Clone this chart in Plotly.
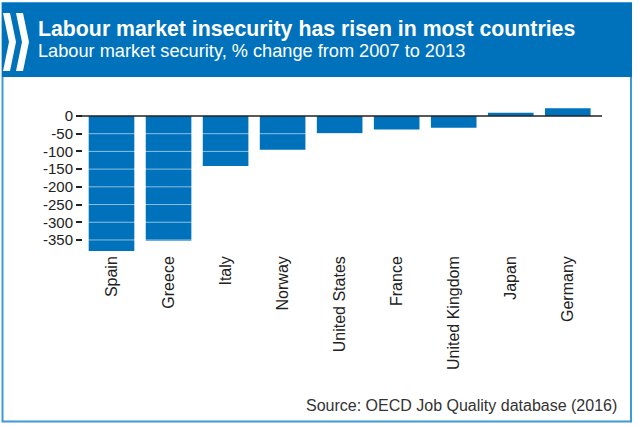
import plotly.graph_objects as go

countries = ["Spain", "Greece", "Italy", "Norway", "United States", "France",
             "United Kingdom", "Japan", "Germany"]
values = [-381, -352, -141, -95, -49, -38, -33, 9, 22]
tick_vals = [0, -50, -100, -150, -200, -250, -300, -350]
tick_text = [str(v) for v in tick_vals]

title = "Labour market insecurity has risen in most countries"
subtitle = "Labour market security, % change from 2007 to 2013"
source = "Source: OECD Job Quality database (2016)"

W, H = 639, 425
L, R, T, B = 83, 602, 102, 252  # plot area in pixels
BLUE = "#0072BC"
FONT = "Liberation Sans, Arial, sans-serif"


def px(x):
    return (x - L) / (R - L)


def py(y):
    return (B - y) / (B - T)


fig = go.Figure(go.Bar(x=countries, y=values, marker=dict(color=BLUE, line=dict(width=0)),
                       width=0.8))

shapes = []
# outer frame
shapes.append(dict(type="rect", xref="paper", yref="paper", x0=px(2.5), x1=px(631), y0=py(3), y1=py(421.5),
                   line=dict(color="#3D9AD6", width=2), fillcolor="rgba(0,0,0,0)", layer="below"))
# header band
shapes.append(dict(type="rect", xref="paper", yref="paper", x0=px(2), x1=px(632), y0=py(3), y1=py(77),
                   line=dict(width=0), fillcolor=BLUE, layer="below"))


def chevron(x0):
    pts = [(x0, 13), (x0 + 7, 13), (x0 + 13, 42), (x0 + 7, 71), (x0, 71), (x0 + 6, 42)]
    d = "M " + " L ".join(f"{px(a):.5f},{py(b):.5f}" for a, b in pts) + " Z"
    return dict(type="path", xref="paper", yref="paper", path=d, fillcolor="white",
                line=dict(width=0), layer="above")


shapes.append(chevron(3))
shapes.append(chevron(16))
# white grid lines over bars
for v in tick_vals[1:]:
    shapes.append(dict(type="line", xref="paper", yref="y", x0=0, x1=1, y0=v, y1=v,
                       line=dict(color="rgba(255,255,255,0.55)", width=1), layer="above"))
# zero line
shapes.append(dict(type="line", xref="paper", yref="y", x0=px(77), x1=1, y0=0, y1=0,
                   line=dict(color="#222222", width=1.5), layer="above"))

annotations = [
    dict(text=f"<b>{title}</b>", xref="paper", yref="paper", x=px(36), y=py(29), xanchor="left",
         yanchor="middle", showarrow=False, font=dict(family=FONT, size=21.3, color="white")),
    dict(text=subtitle, xref="paper", yref="paper", x=px(36), y=py(51), xanchor="left",
         yanchor="middle", showarrow=False, font=dict(family=FONT, size=18.2, color="white")),
    dict(text=source, xref="paper", yref="paper", x=px(619), y=py(405), xanchor="right",
         yanchor="middle", showarrow=False, font=dict(family=FONT, size=16, color="#333333")),
]

fig.update_layout(
    width=W, height=H,
    margin=dict(l=L, r=W - R, t=T, b=H - B, pad=0),
    paper_bgcolor="white", plot_bgcolor="white",
    showlegend=False,
    shapes=shapes, annotations=annotations,
    font=dict(family=FONT, color="#222222"),
    xaxis=dict(range=[-0.5, 8.6], showgrid=False, zeroline=False, showline=False,
               tickangle=-90, tickfont=dict(size=16, color="#222222"), ticks="", ticklen=0,
               fixedrange=True),
    yaxis=dict(range=[-384, 39.5], tickvals=tick_vals, ticktext=tick_text, showgrid=False,
               zeroline=False, showline=False, ticks="outside", ticklen=6, tickcolor="#222222",
               tickwidth=1.5, tickfont=dict(size=15, color="#222222"), fixedrange=True),
)

fig.write_html("out.html", config={"displayModeBar": False})
